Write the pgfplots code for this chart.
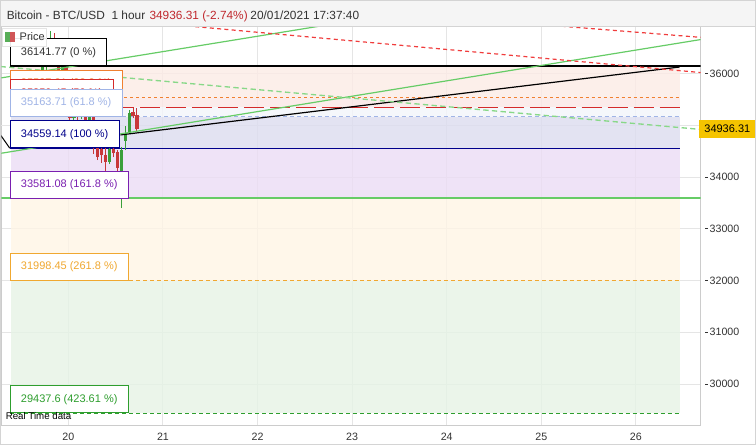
\documentclass[border=0pt]{standalone}
\usepackage{fontspec}
\setmainfont{Liberation Sans}
\usepackage{pgfplots}
\pgfplotsset{compat=1.18}
\usepackage{pgfplotstable}

\definecolor{txt}{HTML}{333333}
\definecolor{hdrbg}{HTML}{F5F5F5}
\definecolor{framec}{HTML}{D4D4D4}
\definecolor{pricered}{HTML}{C0282D}
\definecolor{candG}{HTML}{3A9F3A}
\definecolor{candR}{HTML}{C8383A}
\definecolor{trendG}{HTML}{66CC66}
\definecolor{trendGd}{HTML}{88D888}
\definecolor{trendR}{HTML}{F03C3C}
% band colours, drawn at 80 % opacity so the grid shows through
\definecolor{bandA}{RGB}{252,235,229}
\definecolor{bandB}{RGB}{251,231,229}
\definecolor{bandC}{RGB}{243,245,251}
\definecolor{bandD}{RGB}{221,221,239}
\definecolor{bandE}{RGB}{236,221,245}
\definecolor{bandF}{RGB}{255,245,229}
\definecolor{bandG}{RGB}{230,243,229}
\definecolor{fibO}{HTML}{F08030}
\definecolor{fibR}{HTML}{D42A2A}
\definecolor{fibLB}{HTML}{A0B4E6}
\definecolor{fibN}{HTML}{00008B}
\definecolor{fibP}{HTML}{7A1FB0}
\definecolor{fibY}{HTML}{F0A830}
\definecolor{fibG}{HTML}{2E9E2E}
\definecolor{tagc}{HTML}{F5C400}

% hourly candles, x in days; bl/bh = body low/high
\pgfplotstableread{
x       bl      bh      l      h
19.7250 36050   36120   35990  36230
19.7667 36120   36350   36080  36480
19.8083 36350   36620   36300  36820
19.9333 36060   36150   36000  36210
20.0583 35140   35330   35100  35450
20.1417 35180   35270   35120  35350
20.2250 35100   35170   35020  35240
20.4333 34300   34540   34250  34580
20.5583 34100   34520   33400  34580
20.6000 34700   34860   34520  34980
20.6417 34860   35240   34830  35290
}\greenc
\pgfplotstableread{
x       bl       bh      l      h
19.8500 36240    36620   36150  36790
19.8917 36060    36240   35950  36300
19.9750 36010    36150   35920  36190
20.0167 35140    36010   35060  36080
20.1000 35180    35330   35080  35400
20.1833 35100    35270   34980  35310
20.2667 34560    35170   34450  35220
20.3083 34390    34560   34330  34610
20.3500 34420    34540   34280  34590
20.3917 34300    34420   34100  34560
20.4750 34460    34540   34380  34600
20.5167 34180    34480   34120  34530
20.6833 35190    35260   35150  35340
20.7250 34936.31 35200   34900  35340
}\redc

\newcommand{\boxfont}{\fontsize{8.25}{9.9}\selectfont}
\newcommand{\fibbox}[5]{%
  \node[draw=#3, fill=white, line width=0.75pt, anchor=south west,
    inner xsep=7.5pt, inner ysep=0pt, minimum height=20.25pt,
    text=#4, font=\boxfont] at (axis cs:19.3875,#1)
    {\makebox[\dimexpr#2pt-15pt\relax][l]{#5}};}

\pgfplotsset{
  candle/.style={draw=none, mark=none, forget plot,
    error bars/.cd, y dir=plus, y explicit, error mark=none,
    error bar style={draw=#1, line width=0.75pt}},
  body/.style={draw=none, mark=none, forget plot,
    error bars/.cd, y dir=plus, y explicit, error mark=none,
    error bar style={draw=#1, line width=2.4pt}},
  band/.style={draw=none, fill=#1, fill opacity=0.8},
}

\begin{document}
\begin{tikzpicture}
\begin{scope}[x=0.75pt,y=-0.75pt]
\path[use as bounding box] (0,0) rectangle (756,445);
\fill[white] (0,0) rectangle (756,445);
\fill[hdrbg] (0,0) rectangle (756,26);
\end{scope}
\begin{axis}[
  at={(0.75pt,-319.5pt)}, anchor=south west,
  scale only axis, width=525pt, height=300pt,
  xmin=19.2925, xmax=26.684, ymin=29198, ymax=36920,
  xtick={20,21,...,26}, ytick={30000,31000,32000,33000,34000,36000},
  extra y ticks={35000}, extra y tick labels={},
  yticklabel pos=right,
  grid=major, major grid style={draw=black!10, line width=0.75pt},
  axis line style={draw=black!20, line width=0.75pt},
  major tick length=0pt,
  scaled y ticks=false,
  /pgf/number format/1000 sep={},
  /pgf/number format/assume math mode=true,
  ticklabel style={font=\fontsize{8}{9.6}\selectfont, text=txt},
  yticklabel={\rule[2.5pt]{2pt}{0.6pt}\,\pgfmathprintnumber{\tick}},
  xticklabel style={yshift=-2pt},
]
% Fibonacci bands
\addplot[band=bandA] coordinates {(19.398,36141.77) (26.4625,36141.77) (26.4625,35537.21) (19.398,35537.21)};
\addplot[band=bandB] coordinates {(19.398,35537.21) (26.4625,35537.21) (26.4625,35350.45) (19.398,35350.45)};
\addplot[band=bandC] coordinates {(19.398,35350.45) (26.4625,35350.45) (26.4625,35163.71) (19.398,35163.71)};
\addplot[band=bandD] coordinates {(19.398,35163.71) (26.4625,35163.71) (26.4625,34559.14) (19.398,34559.14)};
\addplot[band=bandE] coordinates {(19.398,34559.14) (26.4625,34559.14) (26.4625,33581.08) (19.398,33581.08)};
\addplot[band=bandF] coordinates {(19.398,33581.08) (26.4625,33581.08) (26.4625,31998.45) (19.398,31998.45)};
\addplot[band=bandG] coordinates {(19.398,31998.45) (26.4625,31998.45) (26.4625,29437.6) (19.398,29437.6)};

% level lines
\addplot[fibO, line width=0.75pt, dash pattern=on 2.25pt off 2.25pt] coordinates {(19.3875,35537.21) (26.4625,35537.21)};
\addplot[fibR, line width=0.75pt, dash pattern=on 15pt off 4.5pt] coordinates {(19.3875,35350.45) (26.4625,35350.45)};
\addplot[fibLB, line width=0.75pt, dash pattern=on 3pt off 2.25pt] coordinates {(19.3875,35163.71) (26.4625,35163.71)};
\addplot[fibN, line width=0.9pt] coordinates {(19.3875,34559.14) (26.4625,34559.14)};
\addplot[fibP, line width=0.9pt, dash pattern=on 3pt off 3pt] coordinates {(19.3875,33581.08) (26.4625,33581.08)};
\addplot[fibY, line width=0.75pt, dash pattern=on 3pt off 2.25pt] coordinates {(19.3875,31998.45) (26.4625,31998.45)};
\addplot[fibG, line width=0.75pt, dash pattern=on 3pt off 2.25pt] coordinates {(19.3875,29437.6) (26.4625,29437.6)};
\addplot[trendG, line width=1pt] coordinates {(19.2925,33594) (26.684,33594)};

% candles: wicks, then bodies
\addplot[candle=candG] table[x=x, y=l, y error plus expr=\thisrow{h}-\thisrow{l}] {\greenc};
\addplot[body=candG] table[x=x, y=bl, y error plus expr=\thisrow{bh}-\thisrow{bl}] {\greenc};
\addplot[candle=candR] table[x=x, y=l, y error plus expr=\thisrow{h}-\thisrow{l}] {\redc};
\addplot[body=candR] table[x=x, y=bl, y error plus expr=\thisrow{bh}-\thisrow{bl}] {\redc};

% trend lines
\addplot[black, line width=1.5pt] coordinates {(19.3875,36141.77) (26.684,36141.77)};
\addplot[black, line width=0.9pt] coordinates {(20.549,34816) (26.4625,36128.5)};
\addplot[black, line width=0.75pt] coordinates {(19.282,34816) (19.380,34559)};
\addplot[trendG, line width=0.9pt] coordinates {(19.282,35916) (22.661,36920)};
\addplot[trendG, line width=0.9pt] coordinates {(19.282,34459) (26.684,36659)};
\addplot[trendGd, line width=1pt, dash pattern=on 4pt off 2.5pt] coordinates {(19.282,36138) (26.684,34922)};
\addplot[trendR, line width=0.9pt, dash pattern=on 3pt off 2.5pt] coordinates {(20.338,37076) (26.684,36022)};
\addplot[trendR, line width=0.9pt, dash pattern=on 3pt off 2.5pt] coordinates {(24.984,36951) (26.684,36702)};

% level labels
\fibbox{36141.77}{72}{black}{txt}{36141.77 (0 \%)}
\fibbox{35537.21}{84}{fibO}{fibO}{35537.21 (38.2 \%)}
\fibbox{35350.45}{77.25}{fibR}{fibR}{35350.45 (50 \%)}
\fibbox{35163.71}{84}{fibLB}{fibLB}{35163.71 (61.8 \%)}
\fibbox{34559.14}{81.75}{fibN}{fibN}{34559.14 (100 \%)}
\fibbox{33581.08}{88.5}{fibP}{fibP}{33581.08 (161.8 \%)}
\fibbox{31998.45}{88.5}{fibY}{fibY}{31998.45 (261.8 \%)}
\fibbox{29437.6}{88.5}{fibG}{fibG}{29437.6 (423.61 \%)}

\coordinate (lastprice) at (axis cs:26.684,34936.31);
\end{axis}

% current price tag, over the tick labels
\node[fill=tagc, anchor=west, xshift=-1.5pt, inner sep=0pt,
  minimum width=42.75pt, minimum height=13.5pt, font=\boxfont, text=black]
  at (lastprice) {34936.31};

\begin{scope}[x=0.75pt,y=-0.75pt]
% header
\draw[framec, line width=0.75pt] (0,26) -- (756,26);
\begin{scope}[every node/.style={anchor=base west, inner sep=0pt, font=\fontsize{8.9}{10}\selectfont, text=txt}]
\node at (6,19) {Bitcoin - BTC/USD};
\node at (111,19) {1 hour};
\node[text=pricered] at (149,19) {34936.31 (-2.74\%)};
\node at (250,19) {20/01/2021 17:37:40};
\end{scope}

% legend
\fill[white, opacity=0.9] (2,28) rectangle (46,46);
\draw[black!10, line width=0.5pt] (2,28) rectangle (46,46);
\fill[candG!85] (5,32) rectangle (10,42);
\fill[candR!85] (10,32) rectangle (15,42);
\node[anchor=west, inner sep=0pt, font=\boxfont, text=txt] at (19,37) {Price};

\node[anchor=west, inner sep=0pt, font=\fontsize{7.3}{8.5}\selectfont, text=black] at (5,416.5) {Real Time data};

\draw[framec, line width=0.75pt] (0.4,0.4) rectangle (755.6,444.6);
\end{scope}
\end{tikzpicture}
\end{document}
